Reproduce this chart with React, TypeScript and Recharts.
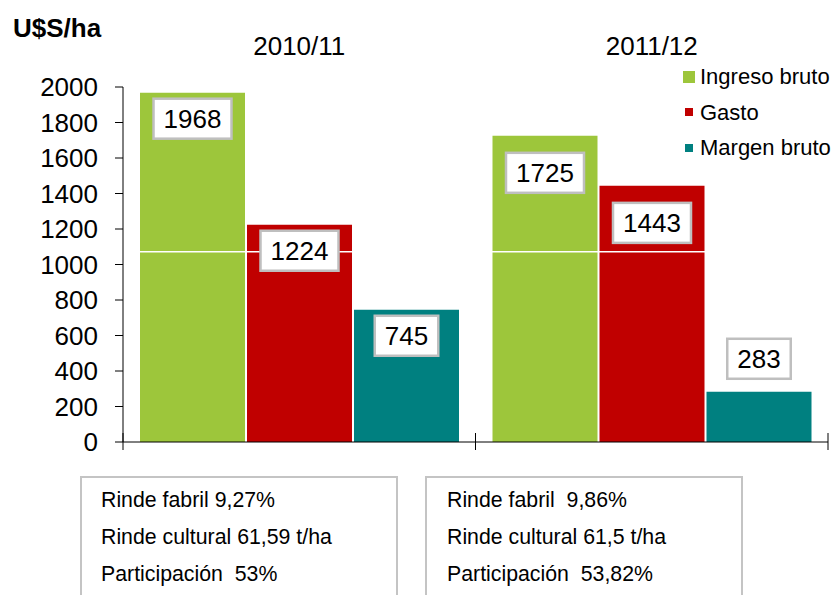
import { BarChart, Bar, XAxis, YAxis, Legend, LabelList, ReferenceLine } from "recharts";

const seasons = ["2010/11", "2011/12"];
const ingresoBruto = [1968, 1725];
const gasto = [1224, 1443];
const margenBruto = [745, 283];
const yTicks = [0, 200, 400, 600, 800, 1000, 1200, 1400, 1600, 1800, 2000];
const seasonNotes = [
  ["Rinde fabril 9,27%", "Rinde cultural 61,59 t/ha", "Participación  53%"],
  ["Rinde fabril  9,86%", "Rinde cultural 61,5 t/ha", "Participación  53,82%"],
];

const series = [
  { key: "ingreso", name: "Ingreso bruto", color: "#9DC63B", keySize: 12 },
  { key: "gasto", name: "Gasto", color: "#C00000", keySize: 8 },
  { key: "margen", name: "Margen bruto", color: "#008080", keySize: 8 },
];

// labels in the 2nd season sit a bit lower inside the bars
const labelDrop = [6, 17];

const FONT = '"Liberation Sans", Arial, sans-serif';

const data = seasons.map((s, i) => ({
  season: s,
  ingreso: ingresoBruto[i],
  gasto: gasto[i],
  margen: margenBruto[i],
}));

function BoxLabel(props: any) {
  const { x, y, width, height, value, index } = props;
  const txt = String(value);
  const w = txt.length * 14.5 + 20;
  const h = 40;
  const cx = Number(x) + Number(width) / 2;
  const inside = Number(height) > h + 20;
  const top = inside ? Number(y) + labelDrop[index] : Number(y) - h - 13;
  return (
    <g>
      <rect x={cx - w / 2} y={top} width={w} height={h} fill="#fff" stroke="#bfbfbf" strokeWidth={2.5} />
      <text x={cx} y={top + h / 2} dy="0.36em" textAnchor="middle" fontSize={26} fill="#000">
        {txt}
      </text>
    </g>
  );
}

function TopTick(props: any) {
  const { x, y, payload } = props;
  return (
    <text x={x} y={y} textAnchor="middle" fontSize={26} fill="#000">
      {payload.value}
    </text>
  );
}

function EdgeTick(props: any) {
  const { x, y, payload } = props;
  const half = payload && payload.offset ? payload.offset : 176.25;
  return (
    <g stroke="#000" strokeWidth={1}>
      <line x1={x - half} x2={x - half} y1={y - 9} y2={y + 8} />
      <line x1={x + half} x2={x + half} y1={y - 9} y2={y + 8} />
    </g>
  );
}

function LegendBox() {
  return (
    <div style={{ fontFamily: FONT, fontSize: 22, color: "#000" }}>
      {series.map((s) => (
        <div key={s.key} style={{ display: "flex", alignItems: "center", height: 35.5, lineHeight: "35.5px" }}>
          <div style={{ width: 12, display: "flex", justifyContent: "center" }}>
            <div style={{ width: s.keySize, height: s.keySize, background: s.color }} />
          </div>
          <span style={{ marginLeft: 5, whiteSpace: "nowrap" }}>{s.name}</span>
        </div>
      ))}
    </div>
  );
}

export default function App() {
  return (
    <div
      style={{
        position: "absolute",
        left: 0,
        top: 0,
        width: 834,
        height: 595,
        overflow: "hidden",
        background: "#fff",
        fontFamily: FONT,
      }}
    >
      <BarChart
        width={834}
        height={595}
        data={data}
        margin={{ top: 37, right: 6, bottom: 123, left: 0 }}
        barSize={105}
        barGap={2}
      >
        <XAxis
          xAxisId="b"
          dataKey="season"
          orientation="bottom"
          height={30}
          axisLine={{ stroke: "#000" }}
          tickLine={false}
          tickSize={0}
          tickMargin={0}
          tick={EdgeTick}
        />
        <XAxis
          xAxisId="t"
          dataKey="season"
          orientation="top"
          height={50}
          axisLine={false}
          tickLine={false}
          tickSize={0}
          tickMargin={32}
          tick={TopTick}
        />
        <YAxis
          width={123}
          domain={[0, 2000]}
          ticks={yTicks}
          interval={0}
          axisLine={{ stroke: "#000" }}
          tickLine={{ stroke: "#000" }}
          tickSize={8}
          tickMargin={17}
          tick={{ fontSize: 26, fill: "#000" }}
        />
        {series.map((s) => (
          <Bar key={s.key} xAxisId="b" dataKey={s.key} name={s.name} fill={s.color} isAnimationActive={false}>
            <LabelList dataKey={s.key} content={BoxLabel} />
          </Bar>
        ))}
        <ReferenceLine xAxisId="b" y={1072} stroke="#fff" strokeWidth={1.5} />
        <Legend
          layout="vertical"
          align="center"
          verticalAlign="middle"
          content={LegendBox}
          wrapperStyle={{ left: 683, top: 59, width: 151 }}
        />
      </BarChart>

      <div
        style={{
          position: "absolute",
          left: 13,
          top: 15,
          fontSize: 26,
          lineHeight: "26px",
          fontWeight: "bold",
          color: "#000",
        }}
      >
        U$S/ha
      </div>

      {seasonNotes.map((lines, i) => (
        <div
          key={i}
          style={{
            position: "absolute",
            left: i === 0 ? 80 : 425,
            top: 476,
            width: 318,
            height: 140,
            boxSizing: "border-box",
            border: "2px solid #c4c4c4",
            paddingTop: 4,
            paddingLeft: i === 0 ? 19 : 20,
            fontSize: 21.3,
            lineHeight: "37px",
            color: "#000",
            whiteSpace: "pre",
          }}
        >
          {lines.map((l, j) => (
            <div key={j}>{l}</div>
          ))}
        </div>
      ))}
    </div>
  );
}
